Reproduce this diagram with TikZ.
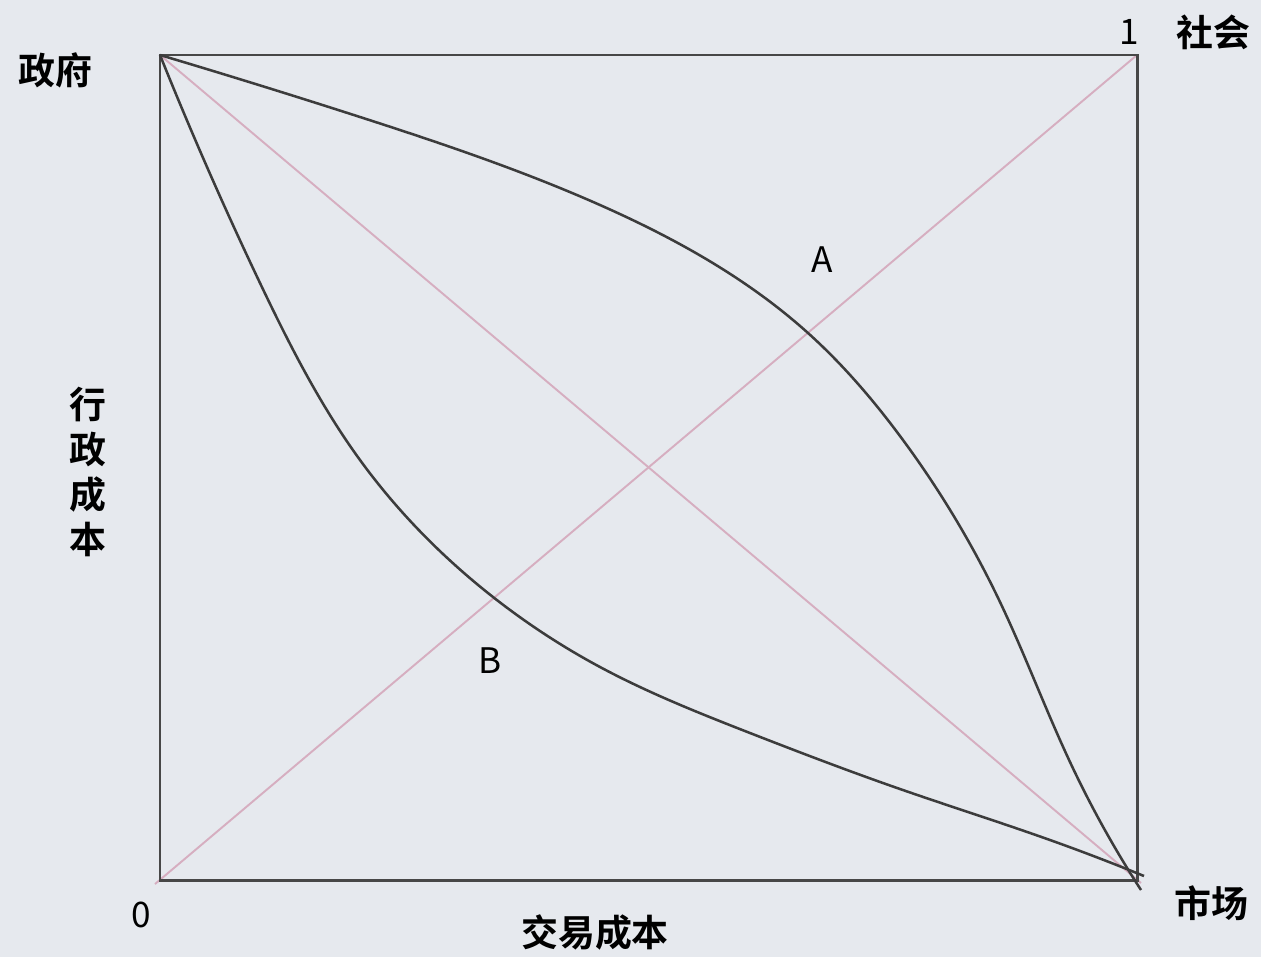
\documentclass[tikz,border=0pt]{standalone}
\usepackage{fontspec}
\usetikzlibrary{hobby}
\newfontfamily\cjk{Noto Sans CJK SC}
\newfontfamily\cjkb{Noto Sans CJK SC}[BoldFont={* Bold}]
\definecolor{bgc}{HTML}{E6E9EE}
\definecolor{boxc}{HTML}{474747}
\definecolor{curvec}{HTML}{3C3C3C}
\definecolor{pinkc}{HTML}{D6AEC0}
\tikzset{
  frame/.style={draw=boxc, line width=0.85pt},
  diag/.style={draw=pinkc, line width=0.55pt},
  curve/.style={draw=curvec, line width=0.72pt, use Hobby shortcut},
  biglabel/.style={font=\cjkb\bfseries\fontsize{10.5}{12.8}\selectfont, inner sep=0pt, text=black},
  smalllabel/.style={font=\cjk\fontsize{10}{12}\selectfont, inner sep=0pt, text=black}
}
\begin{document}
\begin{tikzpicture}[x=0.01cm, y=-0.01cm]
\fill[bgc] (0,0) rectangle (1261,957);
\useasboundingbox (0,0) rectangle (1261,957);
\coordinate (tl) at (160,55);
\coordinate (tr) at (1137,55);
\coordinate (bl) at (160,880);
\coordinate (br) at (1137,880);
\coordinate (blx) at (155,884);
\coordinate (brx) at (1141,883);
\coordinate (aend) at (1141,890);
\coordinate (bend) at (1144,876);
\coordinate (across) at (808,333);
\coordinate (bcross) at (493,597);
% diagonals
\draw[diag] (blx) -- (tr);
\draw[diag] (tl) -- (brx);
% frame
\draw[frame] (tl) -- (tr) -- (br) -- (bl) -- cycle;
% upper curve A
\draw[curve] (tl) .. (360,117) .. (600,205) .. (across) .. (900,436) .. (1000,602) .. (1070,762) .. (aend);
% lower curve B
\draw[curve] (tl) .. (260,283) .. (360,460) .. (bcross) .. (600,667) .. (750,733) .. (900,789) .. (1050,840) .. (bend);
% labels
\node[biglabel] (gov) at (55,70) {政府};
\node[biglabel] (soc) at (1213,32) {社会};
\node[biglabel] (mkt) at (1211,903) {市场};
\node[biglabel] (tc) at (595,932) {交易成本};
\node[biglabel, align=center] (ac) at (88,472) {行\\政\\成\\本};
\node[smalllabel] (one) at (1129,32) {1};
\node[smalllabel] (zero) at (141,915) {0};
\node[smalllabel] (la) at (822,260) {A};
\node[smalllabel] (lb) at (490,661) {B};
\end{tikzpicture}
\end{document}
